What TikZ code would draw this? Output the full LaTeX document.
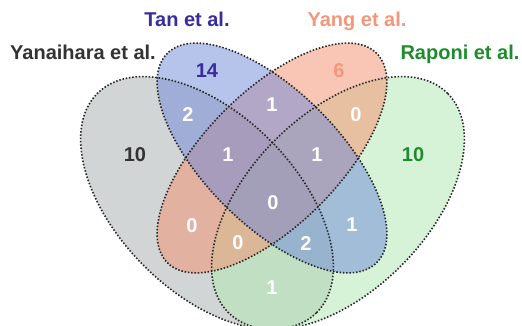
\documentclass[tikz,border=0pt]{standalone}
\usepackage{fontspec}
\setmainfont{Liberation Sans}

% base tints of the four sets (laid down at half opacity)
\definecolor{yanfill}{RGB}{167,173,173}
\definecolor{tanfill}{RGB}{111,137,217}
\definecolor{yangfill}{RGB}{245,143,109}
\definecolor{rapfill}{RGB}{177,233,177}
% text colours
\definecolor{yantext}{RGB}{51,51,51}
\definecolor{tantext}{RGB}{56,45,158}
\definecolor{yangtext}{RGB}{244,150,122}
\definecolor{raptext}{RGB}{30,140,45}
\definecolor{dotline}{RGB}{38,38,38}

\begin{document}
\begin{tikzpicture}[x=1pt,y=1pt,
  setfill/.style={fill opacity=0.5},
  outline/.style={draw=dotline, line width=1.6pt, dash pattern=on 1.5pt off 1.8pt},
  setlabel/.style={font=\fontsize{20}{24}\selectfont\bfseries, anchor=base, inner sep=0pt},
  count/.style={font=\fontsize{20}{24}\selectfont\bfseries, text=white, inner sep=0pt}]

\useasboundingbox (0,0) rectangle (522,-326);
\fill[white] (0,0) rectangle (522,-326);

% ellipse centres
\coordinate (cA) at (207,-203);
\coordinate (cD) at (338,-203);
\coordinate (cB) at (272,-158);
\coordinate (cC) at (272,-158);

% fills: Yanaihara, Raponi, Yang, Tan
\fill[yanfill, setfill, rotate around={-45:(cA)}] (cA) ellipse [x radius=155pt, y radius=89pt];
\fill[rapfill, setfill, rotate around={45:(cD)}] (cD) ellipse [x radius=155pt, y radius=89pt];
\fill[yangfill, setfill, rotate around={45:(cC)}] (cC) ellipse [x radius=148pt, y radius=67pt];
\fill[tanfill, setfill, rotate around={-45:(cB)}] (cB) ellipse [x radius=148pt, y radius=67pt];

% dotted outlines on top
\draw[outline, rotate around={-45:(cA)}] (cA) ellipse [x radius=155pt, y radius=89pt];
\draw[outline, rotate around={45:(cD)}] (cD) ellipse [x radius=155pt, y radius=89pt];
\draw[outline, rotate around={45:(cC)}] (cC) ellipse [x radius=148pt, y radius=67pt];
\draw[outline, rotate around={-45:(cB)}] (cB) ellipse [x radius=148pt, y radius=67pt];

% set names
\node[setlabel, text=yantext] (lyan) at (83,-60) {Yanaihara et al.};
\node[setlabel, text=tantext] (ltan) at (187,-27) {Tan et al.};
\node[setlabel, text=yangtext] (lyang) at (357,-27) {Yang et al.};
\node[setlabel, text=raptext] (lrap) at (460,-60) {Raponi et al.};

% region counts
\node[count, text=tantext] (nB) at (207,-71) {14};
\node[count, text=yangtext] (nC) at (339,-71) {6};
\node[count, text=yantext] (nA) at (135,-155) {10};
\node[count, text=raptext] (nD) at (413,-155) {10};
\node[count] (nAB) at (188,-115) {2};
\node[count] (nBC) at (272,-105) {1};
\node[count] (nCD) at (356,-115) {0};
\node[count] (nABC) at (228,-155) {1};
\node[count] (nBCD) at (317,-155) {1};
\node[count] (nABCD) at (273,-203) {0};
\node[count] (nAC) at (192,-226) {0};
\node[count] (nBD) at (352,-225) {1};
\node[count] (nACD) at (238,-243) {0};
\node[count] (nABD) at (306,-244) {2};
\node[count] (nAD) at (272,-288) {1};
\end{tikzpicture}
\end{document}
